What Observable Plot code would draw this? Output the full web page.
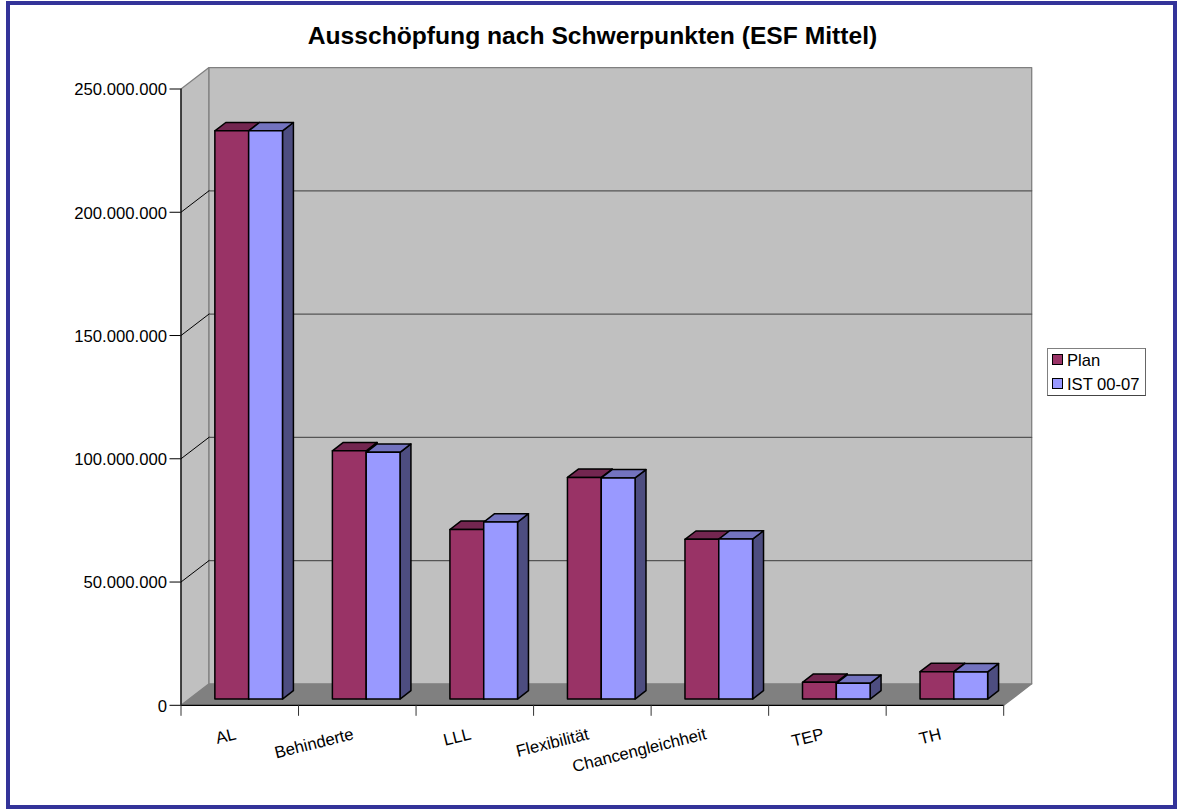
<!DOCTYPE html>
<html lang="de">
<head>
<meta charset="utf-8">
<title>Ausschöpfung nach Schwerpunkten (ESF Mittel)</title>
<script src="https://cdn.jsdelivr.net/npm/d3@7"></script>
<script src="https://cdn.jsdelivr.net/npm/@observablehq/plot@0.6"></script>
<style>
  html, body { margin: 0; padding: 0; background: #fff; overflow: hidden; }
  #chart { position: relative; width: 1177px; height: 809px; font-family: "Liberation Sans", Arial, sans-serif; color: #000; }
  #chart svg { display: block; position: absolute; left: 0; top: 0; }
  #frame { position: absolute; left: 6px; top: 1px; width: 1171px; height: 808px; box-sizing: border-box; border: 4.6px solid #333399; }
  #title { position: absolute; left: 7px; width: 1171px; top: 21px; text-align: center; font-weight: bold; font-size: 24.65px; line-height: 30px; white-space: nowrap; }
  #legend { position: absolute; left: 1047px; top: 348px; width: 99px; height: 48px; box-sizing: border-box; border: 1px solid #808080; border-bottom-color: #444; border-right-color: #666; background: #fff; font-size: 16.6px; }
  #legend .row { position: absolute; left: 4px; height: 24px; line-height: 24px; white-space: nowrap; }
  #legend .sw { position: absolute; left: 0; top: 6px; width: 11px; height: 11px; box-sizing: border-box; border: 1px solid #000; }
  #legend .tx { position: absolute; left: 15px; top: 1px; }
</style>
</head>
<body>
<div id="chart">
  <div id="frame"></div>
  <div id="title">Ausschöpfung nach Schwerpunkten (ESF Mittel)</div>
  <div id="legend"></div>
</div>
<script>
// ---- data ----
const categories = ["AL", "Behinderte", "LLL", "Flexibilität", "Chancengleichheit", "TEP", "TH"];
const plan = [230500000, 100700000, 68800000, 89900000, 64800000, 6800000, 11100000];
const ist  = [230500000, 100100000, 71800000, 89700000, 64900000, 6400000, 11000000];
const yTicks = [0, 50000000, 100000000, 150000000, 200000000, 250000000];

const seriesNames = ["Plan", "IST 00-07"];
const seriesFront = ["#993366", "#9999FF"];
const seriesTop   = ["#732650", "#7373BF"];
const seriesSide  = ["#4D1A33", "#4D4D80"];

// ---- oblique projection expressed in data units ----
const shearX = 28 / 117.5;          // category units per unit of depth
const shearY = 8700000;             // value units per unit of depth
const barLeft = 0.219, barWidth = 0.2877, depthNear = 0.29, depthFar = 0.68;
const px = (x, d) => x + d * shearX;
const py = (v, d) => v + d * shearY;

function polygon(id, fill, corners) {
  return corners.map(([x, v, d]) => ({id, fill, x: px(x, d), y: py(v, d)}));
}

// chart box
const n = categories.length, yMax = 250000000;
const walls = [
  ...polygon("floor", "#808080", [[0,0,0],[n,0,0],[n,0,1],[0,0,1]]),
  ...polygon("side",  "#C0C0C0", [[0,0,0],[0,0,1],[0,yMax,1],[0,yMax,0]]),
  ...polygon("back",  "#C0C0C0", [[0,0,1],[n,0,1],[n,yMax,1],[0,yMax,1]])
];

// gridlines
const gridRows = yTicks.slice(1, -1).flatMap(v => [
  {id: "b" + v, x: px(0, 1), y: py(v, 1)},
  {id: "b" + v, x: px(n, 1), y: py(v, 1)}
]);
const sideRows = yTicks.slice(1, -1).flatMap(v => [
  {id: "s" + v, x: px(0, 0), y: py(v, 0)},
  {id: "s" + v, x: px(0, 1), y: py(v, 1)}
]);

// bars
const bars = [];
categories.forEach((c, i) => {
  [plan[i], ist[i]].forEach((v, s) => {
    const a = i + barLeft + s * barWidth, b = a + barWidth, k = c + s;
    bars.push(...polygon(k + "side", seriesSide[s], [[b,0,depthNear],[b,0,depthFar],[b,v,depthFar],[b,v,depthNear]]));
    bars.push(...polygon(k + "top", seriesTop[s], [[a,v,depthNear],[b,v,depthNear],[b,v,depthFar],[a,v,depthFar]]));
    bars.push(...polygon(k + "front", seriesFront[s], [[a,0,depthNear],[b,0,depthNear],[b,v,depthNear],[a,v,depthNear]]));
  });
});

const deFormat = d3.format(",");
const fmt = v => deFormat(v).replace(/,/g, ".");
const fontSize = 16.7;

const chart = Plot.plot({
  width: 1177,
  height: 809,
  marginLeft: 180.5,
  marginRight: 173.8,
  marginTop: 88.5,
  marginBottom: 104.2,
  style: {fontFamily: '"Liberation Sans", Arial, sans-serif', background: "transparent", color: "#000"},
  x: {type: "linear", domain: [0, n]},
  y: {type: "linear", domain: [0, yMax]},
  color: {type: "identity"},
  marks: [
    Plot.line(walls, {x: "x", y: "y", z: "id", fill: "fill", stroke: "#808080", strokeWidth: 1.3, curve: "linear-closed"}),
    Plot.line(gridRows, {x: "x", y: "y", z: "id", stroke: "#555", strokeWidth: 1.2}),
    Plot.line(sideRows, {x: "x", y: "y", z: "id", stroke: "#000", strokeWidth: 1}),
    Plot.line(bars, {x: "x", y: "y", z: "id", fill: "fill", stroke: "#000", strokeWidth: 1.5, curve: "linear-closed"}),
    Plot.ruleX([0], {y1: 0, y2: yMax, stroke: "#000", strokeWidth: 1.2}),
    Plot.ruleY([0], {x1: 0, x2: n, stroke: "#000", strokeWidth: 1.2}),
    Plot.axisY({ticks: yTicks, text: null, tickSize: 11, label: null, stroke: "#000", marginLeft: 181}),
    Plot.axisY({ticks: yTicks, tickFormat: fmt, tickSize: 0, tickPadding: 14, dy: 1, fontSize, label: null, marginLeft: 181}),
    Plot.axisX({ticks: d3.range(n + 1), text: null, tickSize: 11, label: null, stroke: "#333"}),
    Plot.text(categories, {
      x: (d, i) => i + 0.5,
      y: () => 0,
      text: d => d,
      textAnchor: "end",
      rotate: -14,
      dx: -4,
      dy: 28.5,
      fontSize,
      fill: "#000"
    })
  ]
});
document.getElementById("chart").insertBefore(chart, document.getElementById("frame"));

// legend
const legend = document.getElementById("legend");
seriesNames.forEach((name, s) => {
  const row = document.createElement("div");
  row.className = "row";
  row.style.top = (s * 24 - 1) + "px";
  const sw = document.createElement("div");
  sw.className = "sw";
  sw.style.background = seriesFront[s];
  const tx = document.createElement("div");
  tx.className = "tx";
  tx.textContent = name;
  row.append(sw, tx);
  legend.append(row);
});
</script>
</body>
</html>
